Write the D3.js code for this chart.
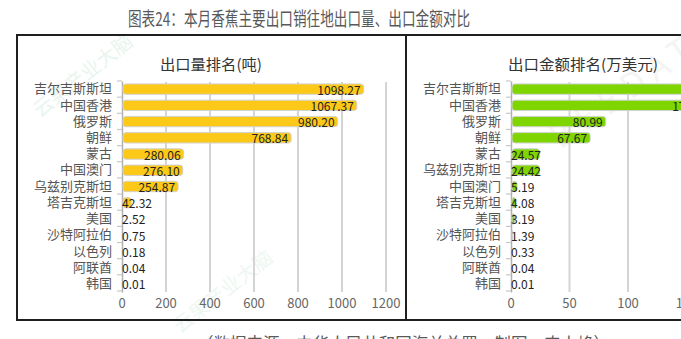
<!DOCTYPE html>
<html>
<head>
<meta charset="utf-8">
<script src="https://cdn.jsdelivr.net/npm/d3@7/dist/d3.min.js"></script>
<style>
  html, body { margin: 0; padding: 0; background: #fff; }
  svg { display: block; font-family: "Noto Sans CJK SC", "Noto Sans", sans-serif; }
</style>
</head>
<body>
<svg id="chart" width="681" height="339"></svg>
<script>
// Export volume ranking (tonnes)
const volumeCategories = ['吉尔吉斯斯坦', '中国香港', '俄罗斯', '朝鲜', '蒙古', '中国澳门', '乌兹别克斯坦', '塔吉克斯坦', '美国', '沙特阿拉伯', '以色列', '阿联酋', '韩国'];
const volumeValues = [1098.27, 1067.37, 980.20, 768.84, 280.06, 276.10, 254.87, 42.32, 2.52, 0.75, 0.18, 0.04, 0.01];
const volumeTicks = [0, 200, 400, 600, 800, 1000, 1200];

// Export value ranking (10k USD)
const amountCategories = ['吉尔吉斯斯坦', '中国香港', '俄罗斯', '朝鲜', '蒙古', '乌兹别克斯坦', '中国澳门', '塔吉克斯坦', '美国', '沙特阿拉伯', '以色列', '阿联酋', '韩国'];
const amountValues = [182.30, 171.60, 80.99, 67.67, 24.57, 24.42, 5.19, 4.08, 3.19, 1.39, 0.33, 0.04, 0.01];
const amountTicks = [0, 50, 100, 150, 200];

const svg = d3.select('#chart');

// faint watermarks
const wm = svg.append('g').attr('pointer-events', 'none');
wm.append('text').attr('transform', 'translate(40,118) rotate(-38)')
  .attr('font-size', 20).attr('fill', '#2e9e5b').attr('opacity', 0.1).text('云果产业大脑');
wm.append('text').attr('transform', 'translate(180,334) rotate(-38)')
  .attr('font-size', 20).attr('fill', '#2e9e5b').attr('opacity', 0.08).text('云果产业大脑');
wm.append('text').attr('transform', 'translate(560,150) rotate(-35)')
  .attr('font-size', 34).attr('fill', '#999').attr('opacity', 0.1).attr('letter-spacing', 8).text('BEEDATA');

// title
svg.append('text')
  .attr('x', 128).attr('y', 17.5)
  .attr('dominant-baseline', 'central')
  .attr('font-size', 19).attr('fill', '#595959')
  .attr('textLength', 342).attr('lengthAdjust', 'spacingAndGlyphs')
  .text('图表24：本月香蕉主要出口销往地出口量、出口金额对比');

// source note (runs off the bottom edge)
svg.append('text')
  .attr('x', 197).attr('y', 342)
  .attr('dominant-baseline', 'central')
  .attr('font-size', 17).attr('fill', '#595959')
  .attr('textLength', 413).attr('lengthAdjust', 'spacingAndGlyphs')
  .text('（数据来源：中华人民共和国海关总署，制图：农小蜂）');

function drawPanel(opts) {
  const { left, right, centerX, title, titleLen, categories, values, ticks, domainMax, x0, x1, color } = opts;
  const g = svg.append('g');

  // frame
  g.append('rect')
    .attr('x', left).attr('y', 35)
    .attr('width', right - left).attr('height', 285)
    .attr('fill', 'none').attr('stroke', '#1f1f1f').attr('stroke-width', 2);

  g.append('text')
    .attr('x', centerX).attr('y', 63)
    .attr('text-anchor', 'middle').attr('dominant-baseline', 'central')
    .attr('font-size', 15).attr('fill', '#333')
    .attr('textLength', titleLen).attr('lengthAdjust', 'spacingAndGlyphs')
    .text(title);

  const x = d3.scaleLinear().domain([0, domainMax]).range([x0, x1]);
  const y = d3.scaleBand().domain(categories).range([81, 292]).paddingInner(0.36).paddingOuter(0.18);
  const step = y.step();

  // grid lines
  g.append('g').selectAll('line').data(ticks.filter(t => t > 0)).join('line')
    .attr('x1', d => x(d)).attr('x2', d => x(d))
    .attr('y1', 82).attr('y2', 292)
    .attr('stroke', '#d4d4d4').attr('stroke-width', 2);

  // x tick labels
  g.append('g').selectAll('text').data(ticks).join('text')
    .attr('x', d => x(d)).attr('y', 308)
    .attr('text-anchor', 'middle')
    .attr('font-size', 13).attr('fill', '#666')
    .text(d => d);

  // category axis
  const yAxis = d3.axisLeft(y).tickSize(0).tickPadding(10);
  const ax = g.append('g').attr('transform', `translate(${x0},0)`).call(yAxis);
  ax.select('.domain').attr('stroke', '#b0b0b0').attr('stroke-width', 1.5);
  ax.selectAll('text').attr('font-size', 13).attr('fill', '#555')
    .attr('font-family', '"Noto Sans CJK SC", sans-serif');
  // boundary ticks between categories
  const bounds = d3.range(categories.length + 1).map(i => 81 + i * (210 / categories.length));
  g.append('g').selectAll('line').data(bounds).join('line')
    .attr('x1', x0 - 5).attr('x2', x0)
    .attr('y1', d => d).attr('y2', d => d)
    .attr('stroke', '#c8c8c8').attr('stroke-width', 1.2);

  // bars
  const bh = y.bandwidth();
  g.append('g').selectAll('rect').data(values).join('rect')
    .attr('x', x0 + 1)
    .attr('y', (d, i) => y(categories[i]))
    .attr('width', d => Math.max(0, x(d) - x0 - 1))
    .attr('height', bh)
    .attr('rx', 3)
    .attr('fill', color)
    .attr('stroke', '#d2d2d2').attr('stroke-width', 1);

  // value labels at the bar end, kept inside the plot start
  const labels = g.append('g').selectAll('text').data(values).join('text')
    .attr('y', (d, i) => y(categories[i]) + bh / 2)
    .attr('dominant-baseline', 'central')
    .attr('font-size', 12).attr('fill', '#222')
    .text(d => d.toFixed(2));
  labels.each(function(d) {
    const w = this.getComputedTextLength();
    d3.select(this).attr('x', Math.max(x0, x(d) - 3 - w));
  });
}

drawPanel({
  left: 17, right: 406, centerX: 211,
  title: '出口量排名(吨)', titleLen: 102,
  categories: volumeCategories, values: volumeValues, ticks: volumeTicks,
  domainMax: 1200, x0: 122, x1: 386, color: '#FDC918'
});

drawPanel({
  left: 406, right: 760, centerX: 583,
  title: '出口金额排名(万美元)', titleLen: 150,
  categories: amountCategories, values: amountValues, ticks: amountTicks,
  domainMax: 200, x0: 511, x1: 745, color: '#7FD500'
});
</script>
</body>
</html>
